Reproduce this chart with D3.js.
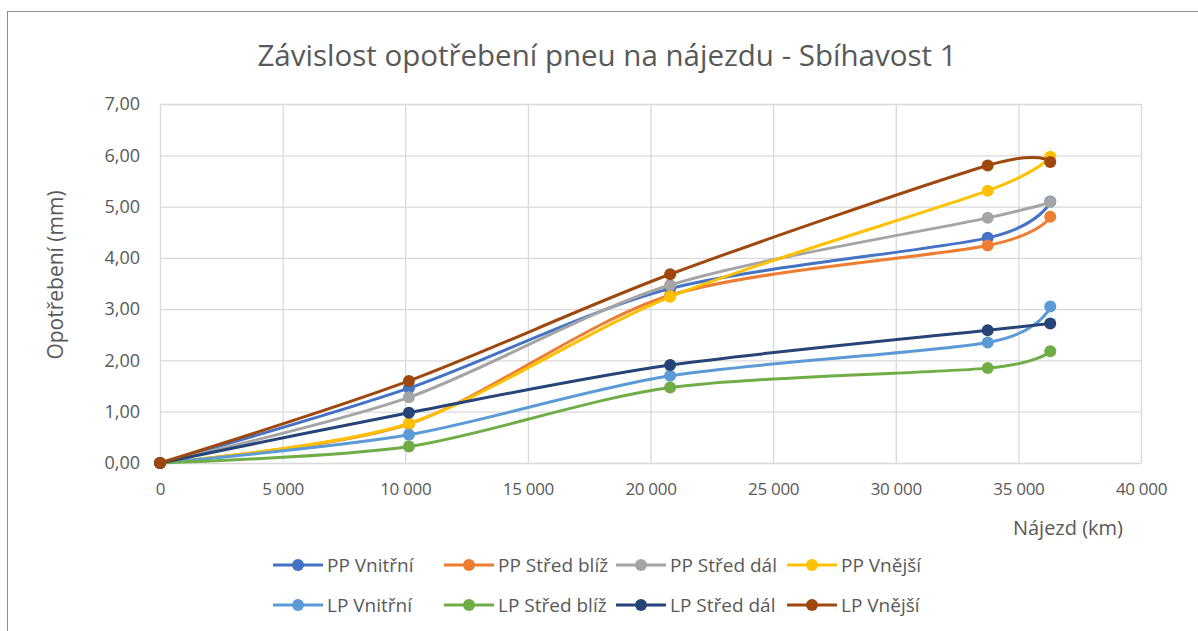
<!DOCTYPE html>
<html>
<head>
<meta charset="utf-8">
<script src="https://cdn.jsdelivr.net/npm/d3@7"></script>
<style>
  body { margin: 0; background: #fff; }
  text { font-family: "Open Sans", "Noto Sans", sans-serif; fill: #595959; }
</style>
</head>
<body>
<svg id="chart" width="1198" height="631"></svg>
<script>
// mileage (km) at each measurement
const mileage = [0, 10150, 20800, 33750, 36300];

// tyre wear (mm) per measured groove
const ppVnitrni = [0, 1.46, 3.40, 4.39, 5.10];
const ppStredBliz = [0, 0.76, 3.27, 4.24, 4.80];
const ppStredDal = [0, 1.28, 3.47, 4.78, 5.09];
const ppVnejsi = [0, 0.77, 3.24, 5.31, 5.97];
const lpVnitrni = [0, 0.55, 1.70, 2.35, 3.05];
const lpStredBliz = [0, 0.32, 1.47, 1.85, 2.18];
const lpStredDal = [0, 0.98, 1.91, 2.59, 2.72];
const lpVnejsi = [0, 1.60, 3.68, 5.80, 5.87];

const seriesNames = [
  "PP Vnitřní", "PP Střed blíž", "PP Střed dál", "PP Vnější",
  "LP Vnitřní", "LP Střed blíž", "LP Střed dál", "LP Vnější",
];
const seriesValues = [
  ppVnitrni, ppStredBliz, ppStredDal, ppVnejsi,
  lpVnitrni, lpStredBliz, lpStredDal, lpVnejsi,
];
const colors = [
  "#4472C4", "#ED7D31", "#A5A5A5", "#FFC000",
  "#5B9BD5", "#70AD47", "#264478", "#9E480E",
];

const xTicks = [0, 5000, 10000, 15000, 20000, 25000, 30000, 35000, 40000];
const yTicks = [0, 1, 2, 3, 4, 5, 6, 7];

const locale = d3.formatLocale({ decimal: ",", thousands: "\u00a0", grouping: [3], currency: ["", ""] });
const fmtX = locale.format(",d");
const fmtY = locale.format(".2f");

const svg = d3.select("#chart");

// chart frame (only left and top edges are inside the picture)
svg.append("rect")
  .attr("x", 7.5).attr("y", 11.5)
  .attr("width", 1220).attr("height", 660)
  .attr("fill", "none").attr("stroke", "#8c8c8c");

const plot = { left: 160, right: 1141, top: 104, bottom: 463 };

const x = d3.scaleLinear().domain([0, 40000]).range([plot.left, plot.right]);
const y = d3.scaleLinear().domain([0, 7]).range([plot.bottom, plot.top]);

// gridlines
svg.append("g")
  .selectAll("line")
  .data(yTicks)
  .enter()
  .append("line")
  .attr("x1", plot.left).attr("x2", plot.right)
  .attr("y1", (d) => y(d) + 0.5).attr("y2", (d) => y(d) + 0.5)
  .attr("stroke", "#d9d9d9").attr("stroke-width", 1.3);

svg.append("g")
  .selectAll("line")
  .data(xTicks)
  .enter()
  .append("line")
  .attr("x1", (d) => x(d) + 0.5).attr("x2", (d) => x(d) + 0.5)
  .attr("y1", plot.top).attr("y2", plot.bottom)
  .attr("stroke", "#d9d9d9").attr("stroke-width", 1.3);

// tick labels
const xAxis = svg.append("g")
  .attr("transform", `translate(0, ${plot.bottom})`)
  .call(d3.axisBottom(x).tickValues(xTicks).tickFormat(fmtX).tickSize(0).tickPadding(20));
xAxis.select(".domain").remove();
xAxis.selectAll("text").style("font-size", "17px").attr("fill", "#595959")
  .style("font-family", "'Open Sans', sans-serif").style("letter-spacing", "-0.3px");

const yAxis = svg.append("g")
  .attr("transform", `translate(${plot.left}, 0)`)
  .call(d3.axisLeft(y).tickValues(yTicks).tickFormat(fmtY).tickSize(0).tickPadding(20));
yAxis.select(".domain").remove();
yAxis.selectAll("text").style("font-size", "18px").attr("fill", "#595959")
  .style("font-family", "'Open Sans', sans-serif");

// titles
svg.append("text")
  .attr("x", 607).attr("y", 66)
  .attr("text-anchor", "middle")
  .style("font-size", "29.5px")
  .text("Závislost opotřebení pneu na nájezdu - Sbíhavost 1");

svg.append("text")
  .attr("transform", "translate(63, 275) rotate(-90)")
  .attr("text-anchor", "middle")
  .style("font-size", "21px")
  .text("Opotřebení (mm)");

svg.append("text")
  .attr("x", 1123).attr("y", 535)
  .attr("text-anchor", "end")
  .style("font-size", "20px")
  .text("Nájezd (km)");

// series
const line = d3.line()
  .x((d, i) => x(mileage[i]))
  .y((d) => y(d))
  .curve(d3.curveCardinal.tension(0.15));

seriesValues.forEach((values, s) => {
  const g = svg.append("g");
  g.append("path")
    .datum(values)
    .attr("d", line)
    .attr("fill", "none")
    .attr("stroke", colors[s])
    .attr("stroke-width", 3)
    .attr("stroke-linecap", "round");
  g.selectAll("circle")
    .data(values)
    .enter()
    .append("circle")
    .attr("cx", (d, i) => x(mileage[i]))
    .attr("cy", (d) => y(d))
    .attr("r", 6)
    .attr("fill", colors[s]);
});

// legend
const legendCols = [273, 444, 616, 787];
const legendRows = [565, 605];
const legend = svg.append("g");
seriesNames.forEach((name, s) => {
  const lx = legendCols[s % 4];
  const ly = legendRows[Math.floor(s / 4)];
  const item = legend.append("g").attr("transform", `translate(${lx}, ${ly})`);
  item.append("line")
    .attr("x1", 0).attr("x2", 50)
    .attr("y1", 0).attr("y2", 0)
    .attr("stroke", colors[s]).attr("stroke-width", 3);
  item.append("circle")
    .attr("cx", 25).attr("cy", 0).attr("r", 6)
    .attr("fill", colors[s]);
  item.append("text")
    .attr("x", 54).attr("y", 7)
    .style("font-size", "19px")
    .text(name);
});
</script>
</body>
</html>
